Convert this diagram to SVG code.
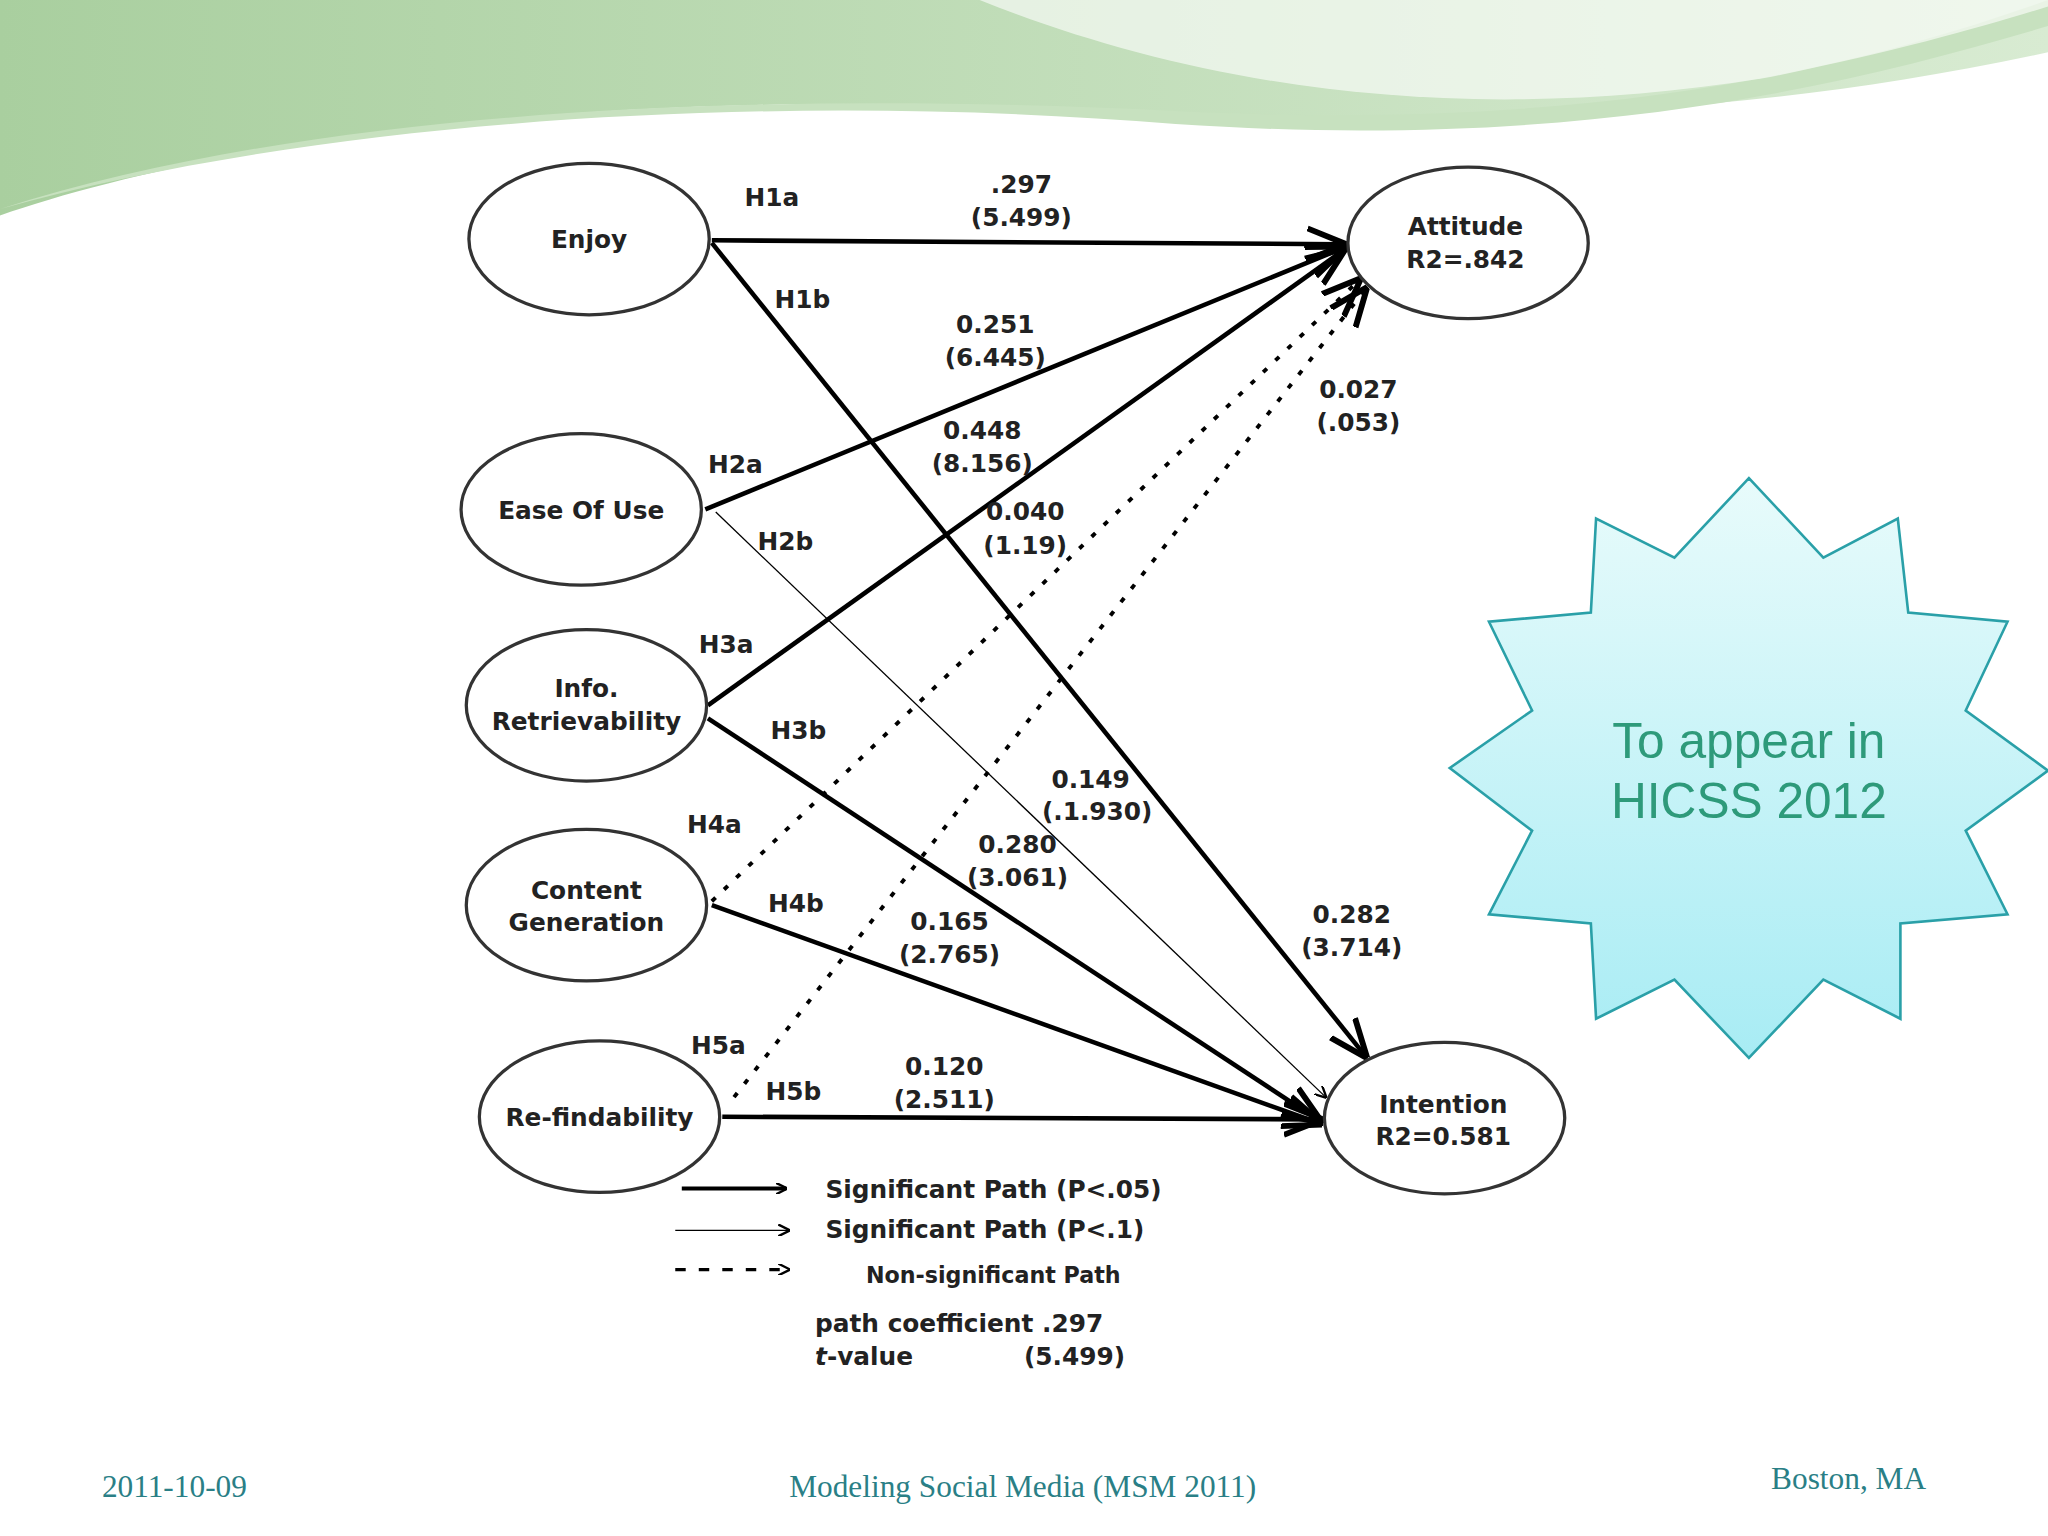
<svg xmlns="http://www.w3.org/2000/svg" width="2048" height="1536" viewBox="0 0 2048 1536">
<defs>
<marker id="ah" viewBox="0 0 10 10" refX="9" refY="5" markerWidth="9" markerHeight="9" markerUnits="userSpaceOnUse" orient="auto"><path d="M0,0 L10,5 L0,10" fill="none" stroke="#000" stroke-width="2"/></marker>
<marker id="ahb" viewBox="0 0 10 10" refX="9" refY="5" markerWidth="30" markerHeight="30" markerUnits="userSpaceOnUse" orient="auto"><path d="M0,1 L10,5 L0,9" fill="none" stroke="#000" stroke-width="1.5"/></marker>
<linearGradient id="sg" x1="0" y1="0" x2="0" y2="1"><stop offset="0" stop-color="#e8fbfb"/><stop offset="1" stop-color="#a8ecf4"/></linearGradient>
<linearGradient id="gg" x1="0" y1="0" x2="1" y2="0"><stop offset="0" stop-color="#a9cf9f"/><stop offset="1" stop-color="#d8ebd2"/></linearGradient>
</defs>
<style>
.n{fill:#fff;stroke:#333;stroke-width:2.5}
.t{font-family:"DejaVu Sans",Verdana,sans-serif;font-size:19px;font-weight:bold;fill:#222;text-anchor:middle}
.l{font-family:"DejaVu Sans",Verdana,sans-serif;font-size:19px;font-weight:bold;fill:#222}
.k{stroke:#000;stroke-width:3.5;fill:none}
.th{stroke:#000;stroke-width:1;fill:none}
.d{stroke:#000;stroke-width:3;stroke-dasharray:4,9;fill:none}
.f{font-family:"Liberation Serif",serif;font-size:24px;fill:#2a7f86}
</style>
<rect width="2048" height="1536" fill="#fff"/>
<g transform="scale(1.30612)">
<g id="bg">
<path d="M0,0 H1568 V40 C1200,120 900,80 600,80 C300,85 100,130 0,165 Z" fill="url(#gg)"/>
<path d="M0,160 C250,90 600,70 900,95 C1200,115 1400,70 1568,20 V0 C1400,60 1200,100 900,85 C600,70 250,80 0,160Z" fill="#c7e1bf"/>
<path d="M750,0 C900,60 1100,100 1350,60 C1450,40 1520,20 1568,5 V0Z" fill="#fff" opacity="0.6"/>
</g>
<g id="connectors">
<line class="k" x1="545" y1="184" x2="1028" y2="187" marker-end="url(#ahb)"/>
<line class="k" x1="545" y1="186" x2="1045" y2="808" marker-end="url(#ahb)"/>
<line class="k" x1="540" y1="390" x2="1028" y2="190" marker-end="url(#ahb)"/>
<line class="th" x1="548" y1="392" x2="1015" y2="840" marker-end="url(#ah)"/>
<line class="k" x1="542" y1="540" x2="1028" y2="192" marker-end="url(#ahb)"/>
<line class="k" x1="542" y1="550" x2="1010" y2="858" marker-end="url(#ahb)"/>
<line class="d" x1="545" y1="690" x2="1040" y2="215" marker-end="url(#ahb)"/>
<line class="k" x1="545" y1="693" x2="1010" y2="860" marker-end="url(#ahb)"/>
<line class="d" x1="562" y1="840" x2="1045" y2="222" marker-end="url(#ahb)"/>
<line class="k" x1="553" y1="855" x2="1010" y2="857" marker-end="url(#ahb)"/>
</g>
<g id="enjoy"><ellipse class="n" cx="451" cy="183" rx="92" ry="58"/><text class="t" x="451" y="190">Enjoy</text></g>
<g id="ease"><ellipse class="n" cx="445" cy="390" rx="92" ry="58"/><text class="t" x="445" y="397">Ease Of Use</text></g>
<g id="info"><ellipse class="n" cx="449" cy="540" rx="92" ry="58"/><text class="t" x="449" y="534">Info.</text><text class="t" x="449" y="559">Retrievability</text></g>
<g id="content"><ellipse class="n" cx="449" cy="693" rx="92" ry="58"/><text class="t" x="449" y="688">Content</text><text class="t" x="449" y="713">Generation</text></g>
<g id="refind"><ellipse class="n" cx="459" cy="855" rx="92" ry="58"/><text class="t" x="459" y="862">Re-findability</text></g>
<g id="attitude"><ellipse class="n" cx="1124" cy="186" rx="92" ry="58"/><text class="t" x="1122" y="180">Attitude</text><text class="t" x="1122" y="205">R2=.842</text></g>
<g id="intention"><ellipse class="n" cx="1106" cy="856" rx="92" ry="58"/><text class="t" x="1105" y="852">Intention</text><text class="t" x="1105" y="877">R2=0.581</text></g>
<g id="labels">
<text class="l" x="570" y="158">H1a</text>
<text class="t" x="782" y="148">.297</text><text class="t" x="782" y="173">(5.499)</text>
<text class="l" x="593" y="236">H1b</text>
<text class="t" x="762" y="255">0.251</text><text class="t" x="762" y="280">(6.445)</text>
<text class="t" x="752" y="336">0.448</text><text class="t" x="752" y="361">(8.156)</text>
<text class="t" x="785" y="398">0.040</text><text class="t" x="785" y="424">(1.19)</text>
<text class="t" x="1040" y="305">0.027</text><text class="t" x="1040" y="330">(.053)</text>
<text class="l" x="542" y="362">H2a</text>
<text class="l" x="580" y="421">H2b</text>
<text class="l" x="535" y="500">H3a</text>
<text class="l" x="590" y="566">H3b</text>
<text class="l" x="526" y="638">H4a</text>
<text class="l" x="588" y="698">H4b</text>
<text class="l" x="529" y="807">H5a</text>
<text class="l" x="586" y="842">H5b</text>
<text class="t" x="835" y="603">0.149</text><text class="t" x="840" y="628">(.1.930)</text>
<text class="t" x="779" y="653">0.280</text><text class="t" x="779" y="678">(3.061)</text>
<text class="t" x="727" y="712">0.165</text><text class="t" x="727" y="737">(2.765)</text>
<text class="t" x="1035" y="707">0.282</text><text class="t" x="1035" y="732">(3.714)</text>
<text class="t" x="723" y="823">0.120</text><text class="t" x="723" y="848">(2.511)</text>
</g>
<g id="legend">
<line class="k" x1="522" y1="910" x2="602" y2="910" marker-end="url(#ah)" style="stroke-width:3"/>
<line class="th" x1="517" y1="942" x2="604" y2="942" marker-end="url(#ah)"/>
<line x1="517" y1="972" x2="604" y2="972" stroke="#000" stroke-width="2.5" stroke-dasharray="8,10" marker-end="url(#ah)"/>
<text class="l" x="632" y="917">Significant Path (P&lt;.05)</text>
<text class="l" x="632" y="948">Significant Path (P&lt;.1)</text>
<text class="l" x="663" y="982" style="font-size:17px">Non-significant Path</text>
<text class="l" x="624" y="1020">path coefficient .297</text>
<text class="l" x="624" y="1045"><tspan font-style="italic">t</tspan>-value</text>
<text class="l" x="784" y="1045">(5.499)</text>
</g>
<g id="star">
<polygon points="1339,366 1396,427 1453,397 1461,469 1537,476 1505,544 1568,590 1505,636 1537,700 1455,707 1455,780 1396,750 1339,810 1282,750 1222,780 1218,707 1140,700 1173,636 1110,588 1173,544 1140,476 1218,469 1222,397 1282,427" fill="url(#sg)" stroke="#2aa0a8" stroke-width="2"/>
<text x="1339" y="580" text-anchor="middle" font-family="Liberation Sans,Arial,sans-serif" font-size="38" fill="#2e9a7a">To appear in</text>
<text x="1339" y="626" text-anchor="middle" font-family="Liberation Sans,Arial,sans-serif" font-size="38" fill="#2e9a7a">HICSS 2012</text>
</g>
<g id="footer">
<text class="f" x="78" y="1146">2011-10-09</text>
<text class="f" x="783" y="1146" text-anchor="middle">Modeling Social Media (MSM 2011)</text>
<text class="f" x="1356" y="1140">Boston, MA</text>
</g>
</g>
</svg>
